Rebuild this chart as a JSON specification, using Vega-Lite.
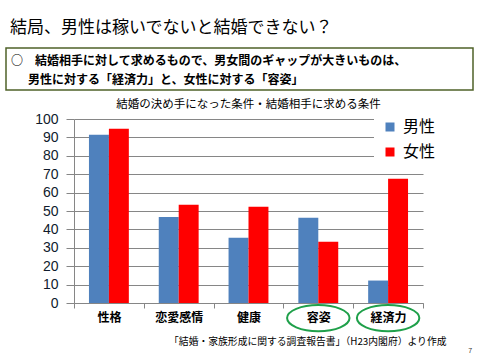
{
  "$schema": "https://vega.github.io/schema/vega-lite/v6.json",
  "background": "white",
  "padding": {"left": 5, "top": 19, "right": 5, "bottom": 5},
  "title": {"text": "結局、男性は稼いでないと結婚できない？", "anchor": "start", "frame": "group", "font": "Noto Sans CJK JP", "fontSize": 17, "fontWeight": "normal", "color": "#000000", "dx": 4, "offset": 10},
  "spacing": 7,
  "config": {"view": {"stroke": null}, "font": "Noto Sans CJK JP"},
  "vconcat": [
    {
      "width": 467,
      "height": 42,
      "view": {"stroke": "#4F6228", "strokeWidth": 1.5},
      "data": {"values": [
        {"line": 1, "text": "○　結婚相手に対して求めるもので、男女間のギャップが大きいものは、"},
        {"line": 2, "text": "男性に対する「経済力」と、女性に対する「容姿」"}
      ]},
      "encoding": {
        "y": {"field": "line", "type": "ordinal", "axis": null, "scale": {"range": [13, 32], "padding": 0}},
        "text": {"field": "text"}
      },
      "layer": [
        {
          "transform": [{"filter": "datum.line == 1"}],
          "mark": {"type": "text", "align": "left", "baseline": "middle", "font": "Noto Sans CJK JP", "fontSize": 12, "fontWeight": "bold", "color": "#000000"},
          "encoding": {"x": {"value": 5}}
        },
        {
          "transform": [{"filter": "datum.line == 2"}],
          "mark": {"type": "text", "align": "left", "baseline": "middle", "font": "Noto Sans CJK JP", "fontSize": 12, "fontWeight": "bold", "color": "#000000"},
          "encoding": {"x": {"value": 22}}
        }
      ]
    },
    {
      "width": 417,
      "height": 184,
      "title": {"text": "結婚の決め手になった条件・結婚相手に求める条件", "font": "Noto Sans CJK JP", "fontSize": 11.5, "fontWeight": "normal", "color": "#000000", "anchor": "middle", "offset": 2, "dx": 34},
      "encoding": {
        "x": {"field": "cond", "type": "nominal",
              "scale": {"domain": ["性格", "恋愛感情", "健康", "容姿", "経済力"], "range": [68, 417], "paddingInner": 0, "paddingOuter": 0},
              "axis": {"title": "「結婚・家族形成に関する調査報告書」（H23内閣府）より作成", "titleFont": "Noto Sans CJK JP", "titleFontSize": 9.8, "titleFontWeight": "normal", "titleColor": "#000000", "titleAlign": "right", "titleX": 440, "titleY": 38, "titleBaseline": "middle",
                       "labelAngle": 0, "labelFont": "Noto Sans CJK JP", "labelFontSize": 12, "labelFontWeight": "bold", "labelColor": "#000000", "labelPadding": 4,
                       "tickBand": "extent", "tickColor": "#868686", "domainColor": "#868686", "tickSize": 5}},
        "y": {"field": "value", "type": "quantitative", "scale": {"domain": [0, 100]},
              "axis": {"title": null, "offset": -68, "grid": true, "labelOverlap": false, "values": [0, 10, 20, 30, 40, 50, 60, 70, 80, 90, 100], "labelFont": "Liberation Sans", "labelFontSize": 14, "labelColor": "#0F1B2D", "labelPadding": 8, "tickSize": 8, "tickColor": "#868686", "domainColor": "#868686", "gridColor": "#868686", "gridWidth": 1}}
      },
      "layer": [
        {
          "data": {"values": [
            {"cond": "性格", "sex": "男性", "value": 91.5},
            {"cond": "性格", "sex": "女性", "value": 94.7},
            {"cond": "恋愛感情", "sex": "男性", "value": 46.8},
            {"cond": "恋愛感情", "sex": "女性", "value": 53.4},
            {"cond": "健康", "sex": "男性", "value": 35.4},
            {"cond": "健康", "sex": "女性", "value": 52.3},
            {"cond": "容姿", "sex": "男性", "value": 46.3},
            {"cond": "容姿", "sex": "女性", "value": 33.3},
            {"cond": "経済力", "sex": "男性", "value": 12.2},
            {"cond": "経済力", "sex": "女性", "value": 67.5}
          ]},
          "mark": {"type": "bar"},
          "encoding": {
            "xOffset": {"field": "sex", "type": "nominal", "sort": ["男性", "女性"], "scale": {"paddingInner": 0, "paddingOuter": 0.75}},
            "color": {"field": "sex", "type": "nominal", "sort": ["男性", "女性"],
                      "scale": {"domain": ["男性", "女性"], "range": ["#4F81BD", "#FF0000"]},
                      "legend": {"title": null, "orient": "none", "legendX": 368, "legendY": 63, "padding": 8, "fillColor": "white", "symbolType": "square", "symbolSize": 81, "symbolStrokeWidth": 0, "labelFont": "Noto Sans CJK JP", "labelFontSize": 16, "labelColor": "#000000", "labelOffset": 5, "rowPadding": 9}}
          }
        },
        {
          "data": {"values": [{"cond": "容姿", "value": -8.2}, {"cond": "経済力", "value": -8.2}]},
          "mark": {"type": "point", "shape": "M -1 0 A 1 0.42 0 1 0 1 0 A 1 0.42 0 1 0 -1 0 Z", "size": 3900, "filled": false, "stroke": "#1FA04A", "strokeWidth": 2, "opacity": 1, "clip": false}
        },
        {
          "data": {"values": [{"cond": "経済力", "value": -26, "page": "7"}]},
          "mark": {"type": "text", "fontSize": 7, "font": "Liberation Sans", "color": "#333333", "dx": 82, "clip": false},
          "encoding": {"text": {"field": "page"}}
        }
      ]
    }
  ]
}
